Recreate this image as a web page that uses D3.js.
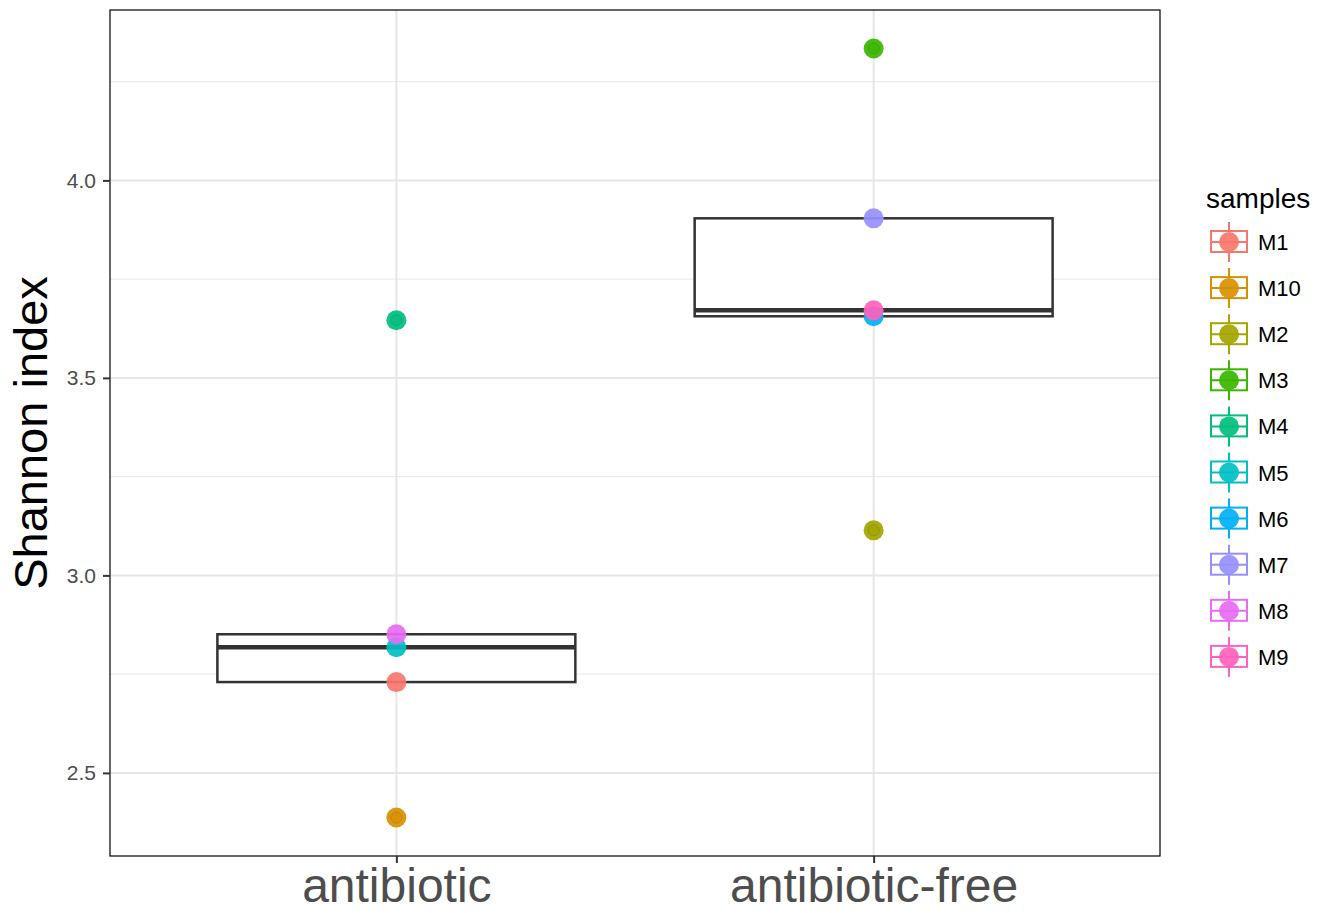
<!DOCTYPE html>
<html>
<head>
<meta charset="utf-8">
<script src="https://cdn.jsdelivr.net/npm/d3@7"></script>
<style>
  body { margin: 0; background: #fff; }
  text { font-family: "Liberation Sans", Arial, Helvetica, sans-serif; }
</style>
</head>
<body>
<svg id="chart" width="1321" height="913"></svg>
<script>
//Groups on the x axis
var groups = ["antibiotic", "antibiotic-free"];

//Samples, the group each belongs to and its Shannon index
var samples = ["M1", "M10", "M2", "M3", "M4", "M5", "M6", "M7", "M8", "M9"];
var sampleGroup = ["antibiotic", "antibiotic", "antibiotic-free", "antibiotic-free", "antibiotic",
                   "antibiotic", "antibiotic-free", "antibiotic-free", "antibiotic", "antibiotic-free"];
var shannon = [2.730, 2.387, 3.114, 4.334, 3.646, 2.818, 3.656, 3.904, 2.851, 3.671];

//Tick labels of the y axis
var yTicks = [2.5, 3.0, 3.5, 4.0];
var yMinor = [2.75, 3.25, 3.75, 4.25];

//ggplot hue palette
var colors = ["#F8766D", "#D89000", "#A3A500", "#39B600", "#00BF7D",
              "#00BFC4", "#00B0F6", "#9590FF", "#E76BF3", "#FF62BC"];

//Plot area
var pL = 110, pR = 1160, pT = 10, pB = 856;

var svg = d3.select("#chart");

var ext = d3.extent(shannon);
var pad = (ext[1] - ext[0]) * 0.05;
var y = d3.scaleLinear()
    .domain([ext[0] - pad, ext[1] + pad])
    .range([pB, pT]);

var x = d3.scalePoint()
    .domain(groups)
    .range([pL, pR])
    .padding(0.6);

var color = d3.scaleOrdinal().domain(samples).range(colors);

//Build the records
var data = samples.map(function(s, i){
    return {name: s, group: sampleGroup[i], value: shannon[i]};
});

//Grid lines
var grid = svg.append("g");
yMinor.forEach(function(v){
    grid.append("line")
        .attr("x1", pL).attr("x2", pR)
        .attr("y1", y(v)).attr("y2", y(v))
        .style("stroke", "#EBEBEB").style("stroke-width", 1.2);
});
yTicks.forEach(function(v){
    grid.append("line")
        .attr("x1", pL).attr("x2", pR)
        .attr("y1", y(v)).attr("y2", y(v))
        .style("stroke", "#E6E6E6").style("stroke-width", 2);
});
groups.forEach(function(g){
    grid.append("line")
        .attr("x1", x(g)).attr("x2", x(g))
        .attr("y1", pT).attr("y2", pB)
        .style("stroke", "#E6E6E6").style("stroke-width", 2);
});

//Boxes
var boxes = svg.append("g");
var outliers = [];
var bw = x.step() * 0.75;
groups.forEach(function(g){
    var vals = data.filter(function(d){ return d.group === g; })
        .map(function(d){ return d.value; }).sort(d3.ascending);
    var q1 = d3.quantile(vals, 0.25), med = d3.quantile(vals, 0.5), q3 = d3.quantile(vals, 0.75);
    var iqr = q3 - q1;
    data.forEach(function(d){
        if (d.group === g && (d.value < q1 - 1.5 * iqr || d.value > q3 + 1.5 * iqr)) outliers.push(d);
    });
    var bx = x(g) - bw / 2;
    boxes.append("rect")
        .attr("x", bx).attr("y", y(q3))
        .attr("width", bw).attr("height", y(q1) - y(q3))
        .style("fill", "#fff").style("stroke", "#333").style("stroke-width", 2.5);
    boxes.append("line")
        .attr("x1", bx).attr("x2", bx + bw)
        .attr("y1", y(med)).attr("y2", y(med))
        .style("stroke", "#333").style("stroke-width", 4.5);
});

//Points
svg.append("g").selectAll("circle")
    .data(data)
    .join("circle")
    .attr("cx", function(d){ return x(d.group); })
    .attr("cy", function(d){ return y(d.value); })
    .attr("r", 10)
    .style("fill", function(d){ return color(d.name); })
    .style("opacity", 0.92);

//Outlier marks from the boxplot
svg.append("g").selectAll("circle")
    .data(outliers)
    .join("circle")
    .attr("cx", function(d){ return x(d.group); })
    .attr("cy", function(d){ return y(d.value); })
    .attr("r", 5.5)
    .style("fill", function(d){ return color(d.name); })
    .style("stroke", function(d){ return d3.rgb(color(d.name)).darker(0.5); })
    .style("stroke-width", 1)
    .style("opacity", 0.6);

//Panel border
svg.append("rect")
    .attr("x", pL).attr("y", pT)
    .attr("width", pR - pL).attr("height", pB - pT)
    .style("fill", "none").style("stroke", "#000").style("stroke-width", 1.2);

//Y axis
var yAxis = svg.append("g")
    .attr("transform", "translate(" + pL + ",0)")
    .call(d3.axisLeft(y).tickValues(yTicks).tickFormat(d3.format(".1f")).tickSize(7).tickPadding(7));
yAxis.select(".domain").remove();
yAxis.selectAll(".tick line").style("stroke", "#333").style("stroke-width", 2);
yAxis.selectAll(".tick text").style("fill", "#4D4D4D").style("font-size", "21px")
    .style("font-family", "'Liberation Sans', Arial, sans-serif");

//X axis
var xAxis = svg.append("g")
    .attr("transform", "translate(0," + pB + ")")
    .call(d3.axisBottom(x).tickSize(7).tickPadding(5));
xAxis.select(".domain").remove();
xAxis.selectAll(".tick line").style("stroke", "#333").style("stroke-width", 2);
xAxis.selectAll(".tick text").style("fill", "#4D4D4D").style("font-size", "48px")
    .style("font-family", "'Liberation Sans', Arial, sans-serif");

//Y axis title
svg.append("text")
    .attr("transform", "translate(47," + (pT + pB) / 2 + ") rotate(-90)")
    .attr("text-anchor", "middle")
    .style("font-size", "47px")
    .text("Shannon index");

//Legend
var legend = svg.append("g").attr("transform", "translate(1206,0)");
legend.append("text")
    .attr("x", 0).attr("y", 208)
    .style("font-size", "28px")
    .text("samples");

samples.forEach(function(s, i){
    var cy = 242 + i * 46.1;
    var c = color(s);
    var k = legend.append("g");
    k.append("line")
        .attr("x1", 23).attr("x2", 23)
        .attr("y1", cy - 20).attr("y2", cy + 20)
        .style("stroke", c).style("stroke-width", 2);
    k.append("rect")
        .attr("x", 5).attr("y", cy - 11)
        .attr("width", 36).attr("height", 21)
        .style("fill", "#fff").style("stroke", c).style("stroke-width", 2);
    k.append("line")
        .attr("x1", 5).attr("x2", 41)
        .attr("y1", cy).attr("y2", cy)
        .style("stroke", c).style("stroke-width", 2);
    k.append("circle")
        .attr("cx", 23).attr("cy", cy).attr("r", 10)
        .style("fill", c).style("opacity", 0.92);
    k.append("text")
        .attr("x", 52).attr("y", cy + 8)
        .style("font-size", "22px")
        .text(s);
});
</script>
</body>
</html>
